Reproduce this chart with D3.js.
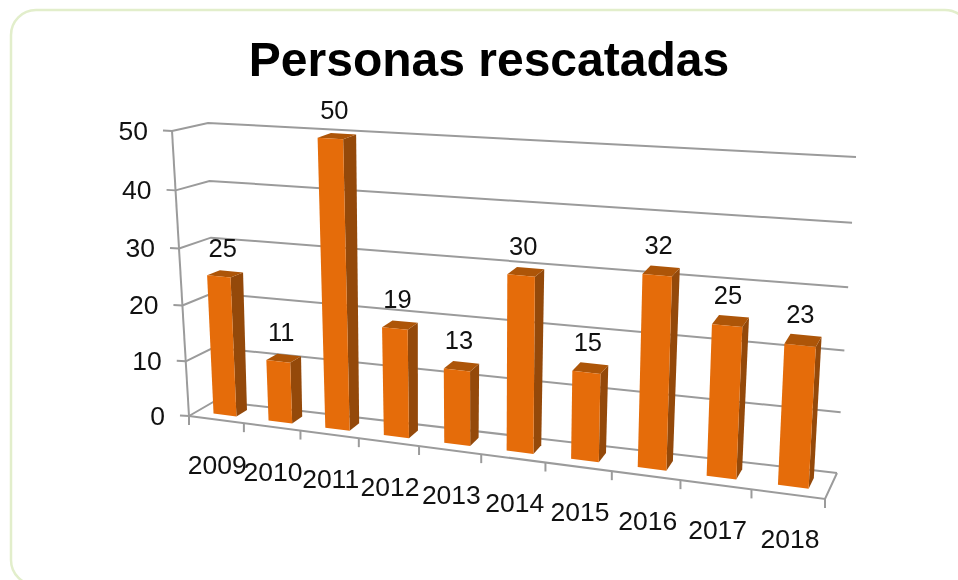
<!DOCTYPE html>
<html><head><meta charset="utf-8">
<script src="https://cdn.jsdelivr.net/npm/d3@7/dist/d3.min.js"></script>
<style>
html,body{margin:0;padding:0;background:#fff;overflow:hidden}
svg{display:block;filter:blur(0.4px)}
text{font-family:"Liberation Sans",Arial,sans-serif;fill:#111}
</style></head><body>
<svg id="c" width="958" height="580"></svg>
<script>
const chartTitle = "Personas rescatadas";
const years = ["2009","2010","2011","2012","2013","2014","2015","2016","2017","2018"];
const rescued = [25,11,50,19,13,30,15,32,25,23];
const valueTicks = [0,10,20,30,40,50];

const svg = d3.select("#c");

// perspective warp of a 0..1 coordinate
const warp = (t,c)=> t*(1+c)/(1+c*t);
const uScale = d3.scaleLinear().domain([0,years.length]).range([0,1]);
const vScale = d3.scaleLinear().domain([0,50]).range([0,1]);
// box edges: left/right, bottom/top, along depth w (0 front, 1 back)
const xLB = d3.scaleLinear().domain([0,1]).range([189,215]);
const yLB = d3.scaleLinear().domain([0,1]).range([416,401]);
const xRB = d3.scaleLinear().domain([0,1]).range([825,837]);
const yRB = d3.scaleLinear().domain([0,1]).range([499,473]);
const xLT = d3.scaleLinear().domain([0,1]).range([172,208]);
const yLT = d3.scaleLinear().domain([0,1]).range([131,123]);
const xRT = d3.scaleLinear().domain([0,1]).range([841,856]);
const yRT = d3.scaleLinear().domain([0,1]).range([180,157]);
const lerp = d3.interpolateNumber;
function project(cat,val,w){
  const u = warp(uScale(cat),-0.15), v = warp(vScale(val),-0.05);
  const xb = lerp(xLB(w),xRB(w))(u), yb = lerp(yLB(w),yRB(w))(u);
  const xt = lerp(xLT(w),xRT(w))(u), yt = lerp(yLT(w),yRT(w))(u);
  return [lerp(xb,xt)(v), lerp(yb,yt)(v)];
}
const line = d3.line();
const n = years.length, GREY="#9b9b9b";

// card
svg.append("rect").attr("x",11).attr("y",10).attr("width",959).attr("height",575)
  .attr("rx",25).attr("fill","#fff").attr("stroke","#e2eecb").attr("stroke-width",2.5);

// title
svg.append("text").attr("x",489).attr("y",76).attr("text-anchor","middle")
  .attr("font-size",48).attr("font-weight","bold").style("fill","#000").text(chartTitle);

const grid = svg.append("g").attr("fill","none").attr("stroke",GREY).attr("stroke-width",2);
// gridlines on the side and back walls
valueTicks.forEach(t=>{
  grid.append("path").attr("d",line([project(0,t,0),project(0,t,1),project(n,t,1)]));
  const p = project(0,t,0);
  grid.append("path").attr("d",line([p,[p[0]-9,p[1]-0.5]]));
});
// value axis
grid.append("path").attr("d",line([project(0,0,0),project(0,50,0)]));
// floor front and right edges
grid.append("path").attr("d",line([project(0,0,0),project(n,0,0),project(n,0,1)]));
// category ticks
d3.range(0,n+1).forEach(i=>{
  const p = project(i,0,0);
  grid.append("path").attr("d",line([p,[p[0],p[1]+9]]));
});

// value labels
svg.append("g").attr("font-size",26.5).attr("text-anchor","end")
  .selectAll("text").data(valueTicks).join("text")
  .attr("x",d=>project(0,d,0)[0]-24)
  .attr("y",d=>project(0,d,0)[1]+8.5)
  .text(d=>d);

// bars
const W0=.30, W1=.72, A=.31, B=.73;
const bars = svg.append("g").selectAll("g").data(rescued).join("g");
bars.append("path").attr("fill","#94490a").attr("d",(d,i)=>line([
  project(i+B,0,W0),project(i+B,0,W1),project(i+B,d,W1),project(i+B,d,W0)])+"Z");
bars.append("path").attr("fill","#ad5508").attr("d",(d,i)=>line([
  project(i+A,d,W0),project(i+B,d,W0),project(i+B,d,W1),project(i+A,d,W1)])+"Z");
bars.append("path").attr("fill","#e56c0a").attr("d",(d,i)=>line([
  project(i+A,0,W0),project(i+B,0,W0),project(i+B,d,W0),project(i+A,d,W0)])+"Z");

// data labels
svg.append("g").attr("font-size",25.5).attr("text-anchor","middle")
  .selectAll("text").data(rescued).join("text")
  .attr("x",(d,i)=>project(i+.5,d,.5)[0]-1)
  .attr("y",(d,i)=>project(i+.5,d,.5)[1]-17)
  .text(d=>d);

// category labels
svg.append("g").attr("font-size",26.5).attr("text-anchor","middle")
  .selectAll("text").data(years).join("text")
  .attr("x",(d,i)=>project(i+.5,0,0)[0]+1+i*.12)
  .attr("y",(d,i)=>project(i+.5,0,0)[1]+54)
  .text(d=>d);
</script></body></html>
